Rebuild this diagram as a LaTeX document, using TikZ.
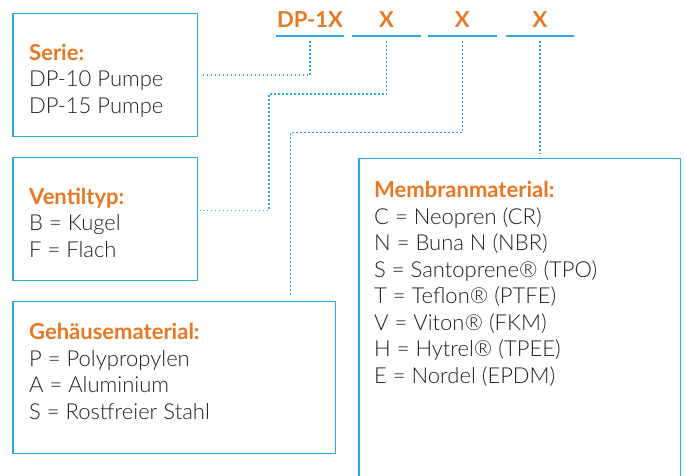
\documentclass[tikz,border=0pt]{standalone}
\usepackage{fontspec}
\IfFontExistsTF{Lato Light}{\setmainfont{Lato Light}[BoldFont={Lato Bold}]}{\setmainfont{Lato}}
\definecolor{lineblue}{RGB}{41,171,226}
\definecolor{headorange}{RGB}{232,119,34}
\definecolor{textgray}{RGB}{35,31,32}
\begin{document}
\begin{tikzpicture}[x=1pt,y=-1pt,
  box/.style={draw=lineblue,line width=1.2pt,anchor=north west,inner sep=0pt},
  list/.style={anchor=base west,align=left,inner sep=0pt,text=textgray,
    font=\fontsize{22}{26.5}\selectfont},
  code/.style={anchor=south,inner sep=0pt,minimum width=68pt,text depth=8.7pt,
    text=headorange,font=\fontsize{22}{26.5}\selectfont\bfseries},
  uline/.style={draw=lineblue,line width=1.2pt},
  dots/.style={draw=lineblue,line width=1.6pt,dash pattern=on 1.6pt off 2.4pt}]
\useasboundingbox (0,0) rectangle (686,476);

\foreach \i/\x/\t in {1/310/DP-1X,2/386.5/X,3/462.3/X,4/540/X}{
  \node[code] (h\i) at (\x,36) {\t};
  \draw[uline] (h\i.south west) -- (h\i.south east);
}

\node[box,minimum width=184.4pt,minimum height=122.7pt] (serie) at (12.3,13.3) {};
\node[box,minimum width=184.4pt,minimum height=123.3pt] (ventil) at (12.3,156.7) {};
\node[box,minimum width=322.7pt,minimum height=152pt] (gehaeuse) at (12.3,300.7) {};
\node[box,minimum width=321.7pt,minimum height=330pt] (membran) at (358.3,158.3) {};

\node[list] (serietext) at (29,113.3) {\textcolor{headorange}{\bfseries Serie:}\\DP-10 Pumpe\\DP-15 Pumpe};
\node[list] (ventiltext) at (29,257) {\textcolor{headorange}{\bfseries Ventiltyp:}\\B = Kugel\\F = Flach};
\node[list] (gehaeusetext) at (29,419.3) {\textcolor{headorange}{\bfseries Gehäusematerial:}\\P = Polypropylen\\A = Aluminium\\S = Rostfreier Stahl};
\node[list] (membrantext) at (374,383.3) {\textcolor{headorange}{\bfseries Membranmaterial:}\\C = Neopren (CR)\\N = Buna N (NBR)\\S = Santoprene® (TPO)\\T = Teflon® (PTFE)\\V = Viton® (FKM)\\H = Hytrel® (TPEE)\\E = Nordel (EPDM)};

\coordinate (b2) at (269,94);
\coordinate (e2) at (200,210.7);
\coordinate (b3) at (290.5,132.7);

\draw[dots] ([yshift=-5pt]h1.south) |- ([xshift=3pt]serie.east);
\draw[dots] ([yshift=-5pt]h2.south) |- (b2) |- (e2);
\draw[dots] ([yshift=-5pt]h3.south) |- (b3) -- ([yshift=4pt]b3 |- gehaeuse.north);
\draw[dots] ([yshift=-5pt]h4.south) -- ([yshift=4pt]h4.south |- membran.north);
\end{tikzpicture}
\end{document}
